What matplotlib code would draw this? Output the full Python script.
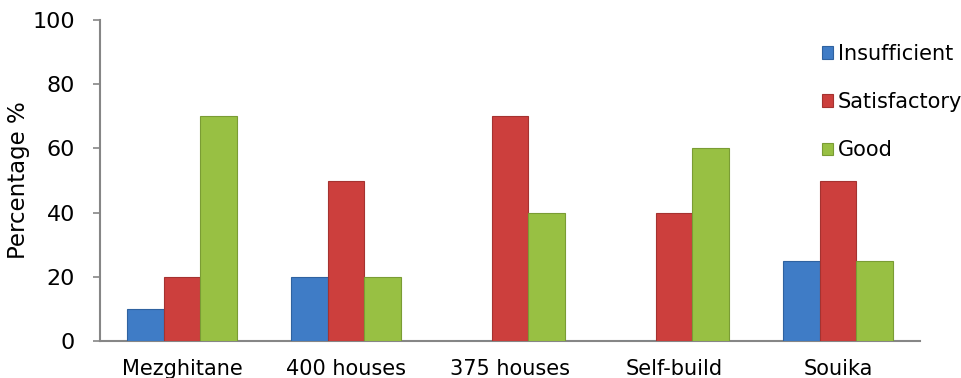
import matplotlib
matplotlib.use("Agg")
import matplotlib.pyplot as plt
import numpy as np

categories = ["Mezghitane", "400 houses", "375 houses", "Self-build", "Souika"]
insufficient = [10, 20, 0, 0, 25]
satisfactory = [20, 50, 70, 40, 50]
good = [70, 20, 40, 60, 25]
series_names = ["Insufficient", "Satisfactory", "Good"]
yticks = [0, 20, 40, 60, 80, 100]

colors = ["#3f7cc6", "#cc3f3d", "#98c043"]
edges = ["#2f62a0", "#a53230", "#7a9c34"]

fig = plt.figure(figsize=(9.61, 3.78), dpi=100)
ax = fig.add_axes([100/961, 1-341/378, 820/961, 321/378])

x = np.arange(len(categories))
w = 0.225
for i, (vals, name) in enumerate(zip([insufficient, satisfactory, good], series_names)):
    ax.bar(x + (i-1)*w, vals, width=w, color=colors[i], edgecolor=edges[i],
           linewidth=0.8, label=name, zorder=3)

ax.set_xlim(-0.5, len(categories)-0.5)
ax.set_ylim(0, 100)
ax.set_yticks(yticks)
ax.set_yticklabels([str(t) for t in yticks], fontsize=16)
ax.set_xticks(x)
ax.set_xticklabels(categories, fontsize=15)
ax.tick_params(axis='x', length=0, pad=13)
ax.tick_params(axis='y', length=5, width=1.2, color="#868686", pad=13)
for s in ["top", "right"]:
    ax.spines[s].set_visible(False)
for s in ["left", "bottom"]:
    ax.spines[s].set_color("#868686")
    ax.spines[s].set_linewidth(1.5)
ax.set_ylabel("Percentage %", fontsize=16.5, labelpad=2)

leg = ax.legend(loc="upper left", bbox_to_anchor=(822/961, 1-44/378),
                bbox_transform=fig.transFigure, frameon=False, fontsize=15,
                handlelength=0.55, handleheight=0.55, handletextpad=0.2,
                labelspacing=1.35, borderaxespad=0, borderpad=0)

fig.savefig("out.png", dpi=100)
